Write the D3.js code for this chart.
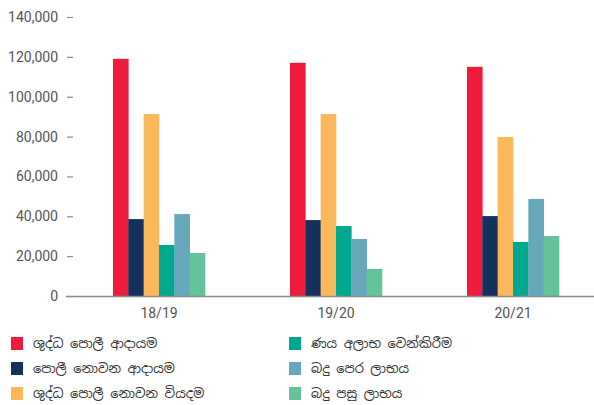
<!DOCTYPE html>
<html>
<head>
<meta charset="utf-8">
<script src="https://cdn.jsdelivr.net/npm/d3@7"></script>
<style>
    body { margin: 0; background: #fff; }
    svg { display: block; }
</style>
</head>
<body>
<svg id="chart" width="594" height="405"></svg>
<script>

var categories = ['18/19', '19/20', '20/21'];

var seriesNames = [
    'ශුද්ධ පොලී ආදායම',
    'පොලී නොවන ආදායම',
    'ශුද්ධ පොලී නොවන වියදම',
    'ණය අලාභ වෙන්කිරීම',
    'බදු පෙර ලාභය',
    'බදු පසු ලාභය'
];

var seriesColors = ['#ee1b3a', '#14315e', '#fbb85a', '#00a88f', '#66a7bc', '#64c39b'];

var netInterestIncome = [119000, 117000, 115000];
var nonInterestIncome = [38600, 38100, 40100];
var nonInterestExpense = [91300, 91300, 79800];
var loanLossProvision = [25600, 35100, 27100];
var profitBeforeTax = [41100, 28600, 48700];
var profitAfterTax = [21600, 13600, 30100];

var yTicks = [0, 20000, 40000, 60000, 80000, 100000, 120000, 140000];

var series = [netInterestIncome, nonInterestIncome, nonInterestExpense,
    loanLossProvision, profitBeforeTax, profitAfterTax];

var svg = d3.select('#chart');

var x0 = d3.scaleBand()
    .domain(categories)
    .range([70.5, 601.5])
    .paddingInner(0.48)
    .paddingOuter(0.24);

var x1 = d3.scaleBand()
    .domain(d3.range(series.length))
    .range([0, x0.bandwidth()]);

var y = d3.scaleLinear()
    .domain([0, 140000])
    .range([296, 17]);

// y axis: labels + small dashes, no domain line
var yAxis = svg.append('g')
    .attr('transform', 'translate(73,0)')
    .call(d3.axisLeft(y).tickValues(yTicks).tickSize(6).tickPadding(9)
        .tickFormat(d3.format(',')));

yAxis.select('.domain').remove();
yAxis.selectAll('line').attr('stroke', '#8a8a8a').attr('stroke-width', 1.2);
yAxis.selectAll('text')
    .attr('fill', '#555')
    .attr('font-family', 'Roboto, sans-serif')
    .attr('font-size', 14);

// bars
var groups = svg.append('g').selectAll('g')
    .data(categories)
    .enter().append('g')
    .attr('transform', function (d) {

        return 'translate(' + x0(d) + ',0)';

    });

groups.selectAll('rect')
    .data(function (d, i) {

        return series.map(function (s, k) {

            return { k: k, value: s[i] };

        });

    })
    .enter().append('rect')
    .attr('x', function (d) { return x1(d.k); })
    .attr('width', x1.bandwidth() + 0.3)
    .attr('y', function (d) { return y(d.value); })
    .attr('height', function (d) { return y(0) - y(d.value); })
    .attr('fill', function (d) { return seriesColors[d.k]; });

// x axis baseline
svg.append('line')
    .attr('x1', 66)
    .attr('x2', 594)
    .attr('y1', y(0) + 0.5)
    .attr('y2', y(0) + 0.5)
    .attr('stroke', '#8a8a8a')
    .attr('stroke-width', 1.5);

svg.append('g').selectAll('text')
    .data(categories)
    .enter().append('text')
    .attr('x', function (d) { return x0(d) + x0.bandwidth() / 2; })
    .attr('y', 318)
    .attr('text-anchor', 'middle')
    .attr('fill', '#555')
    .attr('font-family', 'Roboto, sans-serif')
    .attr('font-size', 14)
    .text(function (d) { return d; });

// legend
var legend = svg.append('g').selectAll('g')
    .data(seriesNames)
    .enter().append('g')
    .attr('transform', function (d, i) {

        var col = Math.floor(i / 3),
            row = i % 3;
        return 'translate(' + (11 + col * 278) + ',' + (337 + row * 25) + ')';

    });

legend.append('rect')
    .attr('width', 12)
    .attr('height', 13)
    .attr('fill', function (d, i) { return seriesColors[i]; });

legend.append('text')
    .attr('x', 22)
    .attr('y', 11)
    .attr('fill', '#333')
    .attr('font-family', '"Noto Sans Sinhala", "Noto Sans", sans-serif')
    .attr('font-size', 13)
    .text(function (d) { return d; });

</script>
</body>
</html>
